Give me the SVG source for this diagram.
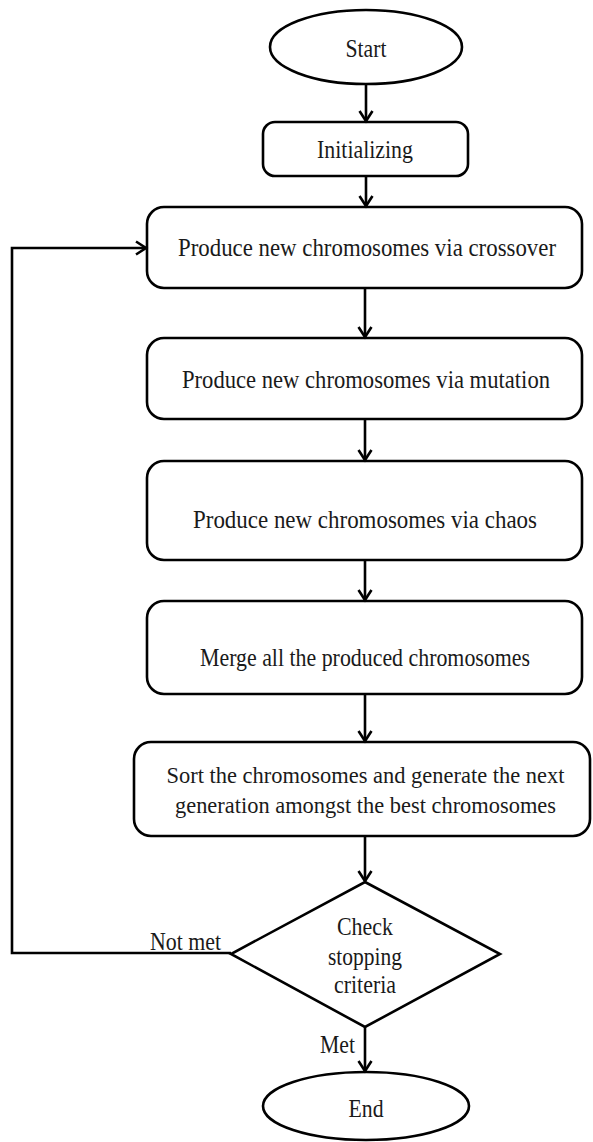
<svg xmlns="http://www.w3.org/2000/svg" width="593" height="1142" viewBox="0 0 593 1142">
<style>
.shape{fill:#fff;stroke:#000;stroke-width:2.6}
.t{font-family:"Liberation Serif","Times New Roman",serif;font-size:25px;fill:#1a1a1a;text-anchor:middle}
.ts{font-size:23px}
.tl{font-family:"Liberation Serif","Times New Roman",serif;font-size:25px;fill:#1a1a1a}
.c{fill:none;stroke:#000;stroke-width:2.6}
</style>
<defs>
<marker id="arr" markerUnits="userSpaceOnUse" markerWidth="20" markerHeight="20" viewBox="-14 -10 16 20" refX="0" refY="0" orient="auto">
<path d="M-10,-6.5 L0,0 L-10,6.5" fill="none" stroke="#000" stroke-width="2.6" stroke-linejoin="miter"/>
</marker>
</defs>
<g id="start">
<ellipse class="shape" cx="366" cy="47" rx="96" ry="37"/>
<text class="t" x="366" y="57" textLength="41" lengthAdjust="spacingAndGlyphs">Start</text>
</g>
<g id="init">
<rect class="shape" x="263" y="122" width="205" height="54" rx="12"/>
<text class="t" x="365" y="158" textLength="96" lengthAdjust="spacingAndGlyphs">Initializing</text>
</g>
<g id="crossover">
<rect class="shape" x="147" y="207" width="435" height="81" rx="17"/>
<text class="t" x="367" y="256" textLength="378" lengthAdjust="spacingAndGlyphs">Produce new chromosomes via crossover</text>
</g>
<g id="mutation">
<rect class="shape" x="147" y="338" width="435" height="81" rx="17"/>
<text class="t" x="366" y="388" textLength="368" lengthAdjust="spacingAndGlyphs">Produce new chromosomes via mutation</text>
</g>
<g id="chaos">
<rect class="shape" x="147" y="461" width="435" height="99" rx="17"/>
<text class="t" x="365" y="528" textLength="344" lengthAdjust="spacingAndGlyphs">Produce new chromosomes via chaos</text>
</g>
<g id="merge">
<rect class="shape" x="147" y="601" width="435" height="93" rx="17"/>
<text class="t" x="365" y="666" textLength="330" lengthAdjust="spacingAndGlyphs">Merge all the produced chromosomes</text>
</g>
<g id="sort">
<rect class="shape" x="134" y="742" width="456" height="94" rx="17"/>
<text class="t ts" x="365.5" y="783" textLength="398" lengthAdjust="spacingAndGlyphs">Sort the chromosomes and generate the next</text>
<text class="t ts" x="365.5" y="813" textLength="381" lengthAdjust="spacingAndGlyphs">generation amongst the best chromosomes</text>
</g>
<g id="check">
<polygon class="shape" points="365,882 500,954 365,1027 231,954"/>
<text class="t" x="365" y="935" textLength="56" lengthAdjust="spacingAndGlyphs">Check</text>
<text class="t" x="365" y="965" textLength="74" lengthAdjust="spacingAndGlyphs">stopping</text>
<text class="t" x="365" y="993" textLength="62" lengthAdjust="spacingAndGlyphs">criteria</text>
</g>
<g id="end">
<ellipse class="shape" cx="366" cy="1106" rx="103" ry="34"/>
<text class="t" x="366" y="1117" textLength="35" lengthAdjust="spacingAndGlyphs">End</text>
</g>
<g id="connectors">
<line class="c" x1="366" y1="84" x2="366" y2="121" marker-end="url(#arr)"/>
<line class="c" x1="366" y1="176" x2="366" y2="206" marker-end="url(#arr)"/>
<line class="c" x1="365" y1="288" x2="365" y2="337" marker-end="url(#arr)"/>
<line class="c" x1="365" y1="419" x2="365" y2="460" marker-end="url(#arr)"/>
<line class="c" x1="365" y1="560" x2="365" y2="600" marker-end="url(#arr)"/>
<line class="c" x1="365" y1="694" x2="365" y2="741" marker-end="url(#arr)"/>
<line class="c" x1="365" y1="836" x2="365" y2="881" marker-end="url(#arr)"/>
<line class="c" x1="365" y1="1027" x2="365" y2="1071" marker-end="url(#arr)"/>
<polyline class="c" points="231,953 12,953 12,248 146,248" marker-end="url(#arr)"/>
<text class="tl" x="150" y="950" textLength="71" lengthAdjust="spacingAndGlyphs">Not met</text>
<text class="tl" x="320" y="1053" textLength="35" lengthAdjust="spacingAndGlyphs">Met</text>
</g>
</svg>
